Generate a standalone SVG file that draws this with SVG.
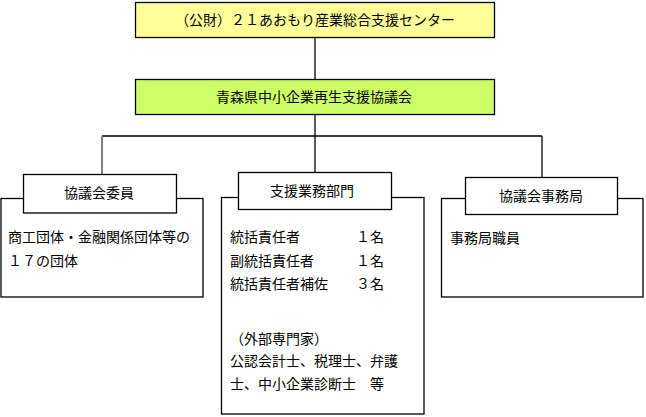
<svg xmlns="http://www.w3.org/2000/svg" width="646" height="417" viewBox="0 0 646 417">
<style>
text{font-family:"Noto Sans CJK JP","Noto Sans CJK SC",sans-serif;font-size:14px;fill:#000}
.c{text-anchor:middle}
.box{stroke:#000;stroke-width:1.3}
.frame{fill:#fff;stroke:#000;stroke-width:1.3}
.lbl{fill:#fff;stroke:#000;stroke-width:1.3}
.ln{stroke:#000;stroke-width:1.3;fill:none}
</style>
<rect width="646" height="417" fill="#fff"/>
<g id="connectors">
<line class="ln" x1="315" y1="37" x2="315" y2="79"/>
<line class="ln" x1="315" y1="114" x2="315" y2="172"/>
<line class="ln" x1="102" y1="136" x2="542" y2="136"/>
<line x1="102" y1="136" x2="102" y2="174" stroke="#808080" stroke-width="2"/>
<line class="ln" x1="542" y1="136" x2="542" y2="177"/>
</g>
<g id="node-center">
<rect class="box" x="135.5" y="2.5" width="359" height="35" fill="#FFFF99"/>
<text class="c" x="315" y="25">（公財）２１あおもり産業総合支援センター</text>
</g>
<g id="node-council">
<rect class="box" x="135.5" y="79.5" width="359" height="35" fill="#CCFF66"/>
<text class="c" x="314" y="102">青森県中小企業再生支援協議会</text>
</g>
<g id="node-members">
<rect class="frame" x="1" y="198.5" width="202" height="98.5"/>
<rect class="lbl" x="23.5" y="174.5" width="153" height="38.5"/>
<text class="c" x="99" y="198">協議会委員</text>
<text x="8" y="242">商工団体・金融関係団体等の</text>
<text x="8" y="266">１７の団体</text>
</g>
<g id="node-support">
<rect class="frame" x="221.5" y="197.5" width="202.5" height="216.5"/>
<rect class="lbl" x="238.5" y="172.5" width="153" height="37"/>
<text class="c" x="312" y="196">支援業務部門</text>
<text x="230" y="242">統括責任者　　　　１名</text>
<text x="230" y="266">副統括責任者　　　１名</text>
<text x="230" y="289">統括責任者補佐　　３名</text>
<text x="230" y="344">（外部専門家）</text>
<text x="230" y="366">公認会計士、税理士、弁護</text>
<text x="230" y="389">士、中小企業診断士　等</text>
</g>
<g id="node-office">
<rect class="frame" x="441.5" y="198.5" width="201.5" height="98.5"/>
<rect class="lbl" x="465.5" y="177.5" width="152" height="37"/>
<text class="c" x="541" y="201">協議会事務局</text>
<text x="450" y="243">事務局職員</text>
</g>
</svg>
